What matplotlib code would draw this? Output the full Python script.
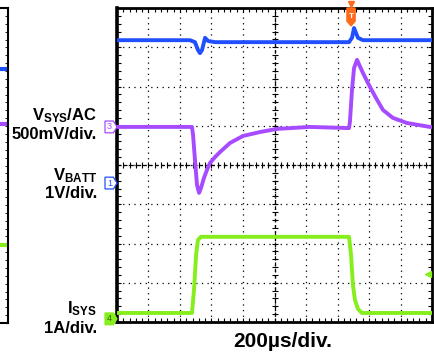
import numpy as np
import matplotlib.pyplot as plt
from matplotlib.patches import Polygon
from matplotlib import transforms

plt.rcParams["font.family"] = ["Liberation Sans", "DejaVu Sans"]
plt.rcParams["mathtext.fontset"] = "custom"
plt.rcParams["mathtext.rm"] = "Liberation Sans:bold"
plt.rcParams["mathtext.bf"] = "Liberation Sans:bold"

# ---------------------------------------------------------------
# Traces (time in us, level in divisions)
vsys_dc_t = [0, 463, 495, 514, 527, 540, 559, 578, 622, 1473, 1492, 1505, 1530, 1562, 2000]
vsys_dc_v = [7.18, 7.18, 7.13, 6.93, 6.85, 6.93, 7.24, 7.16, 7.13, 7.13, 7.24, 7.49, 7.24, 7.18, 7.18]

vsys_ac_t = [0, 476, 483, 495, 508, 521, 533, 552, 571, 590, 622, 654, 717, 800, 908, 1016,
             1225, 1473, 1479, 1492, 1505, 1524, 1562, 1606, 1651, 1689, 1752, 1841, 1987, 2000]
vsys_ac_v = [4.97, 4.97, 4.76, 4.13, 3.49, 3.29, 3.41, 3.67, 3.87, 4.05, 4.20, 4.33, 4.56, 4.74, 4.84, 4.92,
             4.97, 4.94, 5.10, 5.91, 6.47, 6.68, 6.34, 5.99, 5.66, 5.40, 5.20, 5.07, 4.97, 4.97]

isys_t = [0, 476, 489, 502, 514, 533, 1473, 1486, 1498, 1511, 1530, 1556, 2000]
isys_v = [0.23, 0.23, 0.82, 1.71, 2.09, 2.17, 2.17, 1.71, 0.94, 0.56, 0.33, 0.23, 0.23]

# channel ground markers (divisions) and trigger
ch_levels = {"3": 4.97, "1": 3.54, "4": 0.08}
trig_t = 1486
trig_level = 1.22

# neighbouring (cropped) screen on the far left: marker levels
left_marks = [6.45, 5.05, 1.98]

c_blue = "#1f4fff"
c_purple = "#a64bff"
c_green = "#86ee1c"
c_orange = "#ff6a1a"

# ---------------------------------------------------------------
fig = plt.figure(figsize=(4.35, 3.54), dpi=100)
W, H = 435, 354

ax = fig.add_axes([117 / W, (H - 322) / H, 315 / W, 314 / H])
ax.set_xlim(0, 2000)
ax.set_ylim(0, 8)

ax.set_xticks(np.arange(0, 2001, 200))
ax.set_xticks(np.arange(0, 2001, 40), minor=True)
ax.set_yticks(np.arange(0, 8.01, 1))
ax.set_yticks(np.arange(0, 8.01, 0.2), minor=True)
ax.tick_params(which="both", direction="in", top=True, right=True,
               labelbottom=False, labelleft=False, length=3, width=0.8)
ax.grid(True, which="major", color="black", linestyle=(0, (1, 3.5)), linewidth=0.9)

for s in ax.spines.values():
    s.set_linewidth(2)
ax.spines["left"].set_linewidth(2.6)

# center cross with ticks
ax.axhline(4, color="black", linestyle=(0, (3, 2)), linewidth=0.9)
ax.axvline(1000, color="black", linestyle=(0, (3, 2)), linewidth=0.9)
mt = np.arange(0, 2001, 40)
ax.plot(mt, np.full(len(mt), 4.0), linestyle="none", marker="|", markersize=4,
        color="black", markeredgewidth=0.8)
my = np.arange(0, 8.01, 0.2)
ax.plot(np.full(len(my), 1000), my, linestyle="none", marker="_", markersize=4,
        color="black", markeredgewidth=0.8)

# traces
ax.plot(vsys_dc_t, vsys_dc_v, color=c_blue, linewidth=2.8, solid_joinstyle="round", zorder=5)
ax.plot(vsys_ac_t, vsys_ac_v, color=c_purple, linewidth=2.8, solid_joinstyle="round", zorder=5)
ax.plot(isys_t, isys_v, color=c_green, linewidth=2.8, solid_joinstyle="round", zorder=5)

# channel markers on the left edge
tr = transforms.blended_transform_factory(ax.transAxes, ax.transData)
mw = 12 / 315
mh = 0.15
for name, lvl in ch_levels.items():
    if name == "3":
        fc, ec, tc = "white", c_purple, c_purple
    elif name == "1":
        fc, ec, tc = "white", c_blue, c_blue
    else:
        fc, ec, tc = c_green, c_green, "#2a6a00"
    pts = [(-mw, lvl - mh), (-mw * 0.3, lvl - mh), (0, lvl), (-mw * 0.3, lvl + mh), (-mw, lvl + mh)]
    ax.add_patch(Polygon(pts, closed=True, transform=tr, facecolor=fc, edgecolor=ec,
                         linewidth=0.9, clip_on=False, zorder=6))
    ax.text(-mw * 0.62, lvl, name, transform=tr, color=tc, fontsize=6.5,
            ha="center", va="center", clip_on=False, zorder=7)

# trigger marker at top
tr2 = transforms.blended_transform_factory(ax.transData, ax.transAxes)
tw = 26
ax.add_patch(Polygon([(trig_t - tw, 1.0), (trig_t + tw, 1.0), (trig_t + tw, 0.958),
                      (trig_t, 0.943), (trig_t - tw, 0.958)], closed=True, transform=tr2,
                     facecolor=c_orange, edgecolor=c_orange, clip_on=False, zorder=6))
ax.text(trig_t, 0.973, "T", transform=tr2, color="white", fontsize=6, fontweight="bold",
        ha="center", va="center", zorder=7)
ax.plot([trig_t], [1.013], transform=tr2, marker="v", color=c_orange, markersize=4,
        clip_on=False, zorder=6)
ax.plot([1975], [trig_level], marker="<", color=c_green, markersize=5, zorder=6)

# ---------------------------------------------------------------
# cropped neighbour screen at far left
axl = fig.add_axes([-20 / W, (H - 323) / H, 28 / W, 315 / H])
axl.set_xlim(0, 1)
axl.set_ylim(0, 8)
axl.set_xticks([])
axl.set_yticks(np.arange(0, 8.01, 0.2))
axl.tick_params(axis="y", direction="in", left=False, right=True, labelleft=False,
                length=2, width=0.6)
axl.spines["left"].set_visible(False)
for s in ["right", "top", "bottom"]:
    axl.spines[s].set_linewidth(1.5)
for lvl, col in zip(left_marks, [c_blue, c_purple, c_green]):
    axl.plot([0.75, 1.0], [lvl, lvl], color=col, linewidth=3)

# ---------------------------------------------------------------
# labels
lx = 97 / W
fs = 12
fig.text(lx, 1 - 120 / H, r"V$\mathregular{_{SYS}}$/AC", ha="right", va="baseline",
         fontsize=fs, fontweight="bold")
fig.text(lx, 1 - 139 / H, "500mV/div.", ha="right", va="baseline", fontsize=fs, fontweight="bold")
fig.text(lx, 1 - 180 / H, r"V$\mathregular{_{BATT}}$", ha="right", va="baseline",
         fontsize=fs, fontweight="bold")
fig.text(lx, 1 - 198 / H, "1V/div.", ha="right", va="baseline", fontsize=fs, fontweight="bold")
fig.text(lx, 1 - 313 / H, r"I$\mathregular{_{SYS}}$", ha="right", va="baseline",
         fontsize=fs, fontweight="bold")
fig.text(lx, 1 - 333 / H, "1A/div.", ha="right", va="baseline", fontsize=fs, fontweight="bold")
fig.text(283 / W, 1 - 347 / H, "200µs/div.", ha="center", va="baseline", fontsize=15,
         fontweight="bold")

fig.savefig("out.png", dpi=100)
